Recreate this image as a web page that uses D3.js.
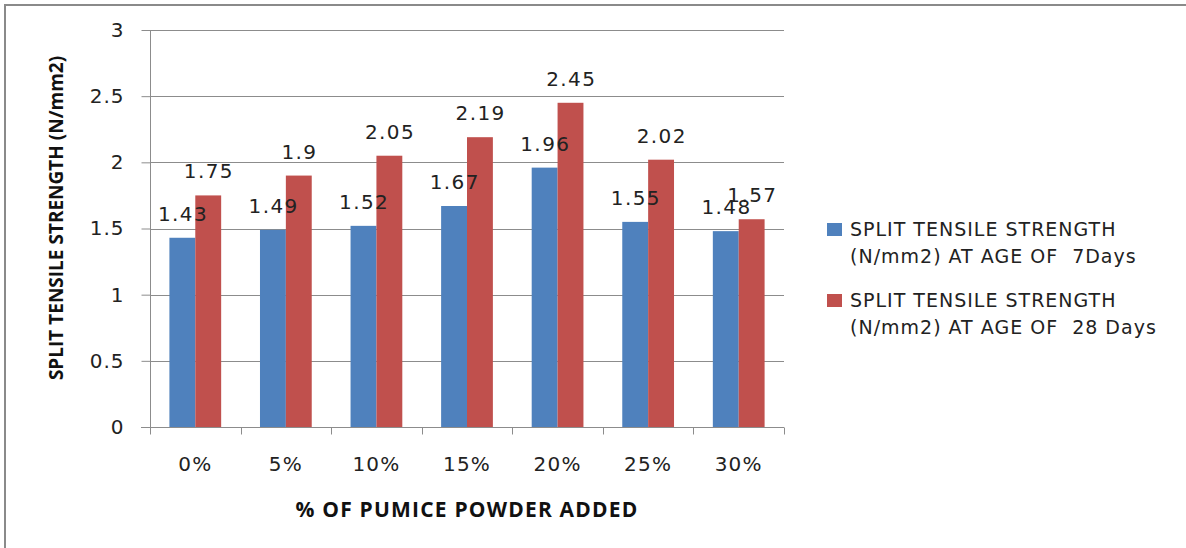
<!DOCTYPE html>
<html>
<head>
<meta charset="utf-8">
<script src="https://cdn.jsdelivr.net/npm/d3@7"></script>
<style>
  html, body { margin: 0; padding: 0; background: #fff; }
  svg text { white-space: pre; }
</style>
</head>
<body>
<svg id="chart" width="1186" height="548"></svg>
<script>
// Split tensile strength of concrete vs. pumice powder replacement
const categories = ["0%", "5%", "10%", "15%", "20%", "25%", "30%"];
const strength7Days = [1.43, 1.49, 1.52, 1.67, 1.96, 1.55, 1.48];
const strength28Days = [1.75, 1.90, 2.05, 2.19, 2.45, 2.02, 1.57];
const yTicks = [0, 0.5, 1, 1.5, 2, 2.5, 3];
const seriesNames = [
  ["SPLIT TENSILE STRENGTH", "(N/mm2) AT AGE OF  7Days"],
  ["SPLIT TENSILE STRENGTH", "(N/mm2) AT AGE OF  28 Days"]
];
const seriesColors = ["#4F81BD", "#C0504D"];
const yTitle = "SPLIT TENSILE STRENGTH (N/mm2)";
const xTitle = "% OF PUMICE POWDER ADDED";

const series = [strength7Days, strength28Days];
const svg = d3.select("#chart");
const plot = { left: 150, right: 784, top: 30, bottom: 427 };
const gridColor = "#8C8C8C";
const labelFont = "'DejaVu Sans', Verdana, sans-serif";
const titleFont = "'Open Sans', 'Liberation Sans', sans-serif";

// Outer chart frame (right and bottom edges fall outside the view)
svg.append("path")
  .attr("d", "M5,560 L5,5 L1200,5")
  .attr("fill", "none")
  .attr("stroke", "#8A8A8A")
  .attr("stroke-width", 2);

const x = d3.scaleBand().domain(categories).range([plot.left, plot.right]).padding(0);
const y = d3.scaleLinear().domain([0, 3]).range([plot.bottom, plot.top]);

// Two bars per category, gap width 150% of a bar
const barW = x.bandwidth() / 3.5;
const xs = d3.scaleBand().domain([0, 1])
  .range([x.bandwidth() * 0.75 / 3.5, x.bandwidth() * 0.75 / 3.5 + 2 * barW])
  .padding(0);

// Horizontal gridlines
svg.append("g")
  .selectAll("line")
  .data(yTicks.filter(d => d > 0))
  .join("line")
  .attr("x1", plot.left).attr("x2", plot.right)
  .attr("y1", d => Math.round(y(d)) + 0.5).attr("y2", d => Math.round(y(d)) + 0.5)
  .attr("stroke", gridColor).attr("stroke-width", 1);

// Y axis
const yAxis = svg.append("g")
  .attr("transform", `translate(${plot.left + 0.5},0)`)
  .call(d3.axisLeft(y).tickValues(yTicks).tickSize(9).tickPadding(17).tickFormat(d => String(d)));
yAxis.select(".domain").attr("stroke", gridColor).attr("d", `M0,${plot.top}V${plot.bottom}`);
yAxis.selectAll(".tick line").attr("stroke", gridColor);
yAxis.selectAll(".tick text")
  .attr("font-family", labelFont).attr("font-size", 20).attr("fill", "#222")
  .attr("letter-spacing", 1);

// X axis with tick marks at category boundaries
const xAxisG = svg.append("g").attr("transform", `translate(0,${plot.bottom + 0.5})`);
xAxisG.append("line")
  .attr("x1", plot.left - 9).attr("x2", plot.right)
  .attr("stroke", gridColor);
xAxisG.selectAll("line.b")
  .data(categories.map(c => x(c)).concat([x(categories[categories.length - 1]) + x.bandwidth()]))
  .join("line")
  .attr("class", "b")
  .attr("x1", d => Math.round(d) + 0.5).attr("x2", d => Math.round(d) + 0.5)
  .attr("y1", 0).attr("y2", 7)
  .attr("stroke", gridColor);
xAxisG.selectAll("text")
  .data(categories)
  .join("text")
  .attr("x", d => x(d) + x.bandwidth() / 2)
  .attr("y", 43)
  .attr("text-anchor", "middle")
  .attr("font-family", labelFont).attr("font-size", 20).attr("fill", "#222")
  .attr("letter-spacing", 1.2)
  .text(d => d);

// Bars
series.forEach((vals, si) => {
  const g = svg.append("g");
  g.selectAll("rect")
    .data(vals)
    .join("rect")
    .attr("x", (d, i) => x(categories[i]) + xs(si))
    .attr("y", d => y(d))
    .attr("width", barW)
    .attr("height", d => y(0) - y(d))
    .attr("fill", seriesColors[si]);
});

// Value labels above bars
series.forEach((vals, si) => {
  svg.append("g")
    .selectAll("text")
    .data(vals)
    .join("text")
    .attr("x", (d, i) => x(categories[i]) + xs(si) + barW / 2 + 0.7)
    .attr("y", d => y(d) - 17)
    .attr("text-anchor", "middle")
    .attr("font-family", labelFont).attr("font-size", 20).attr("fill", "#222")
    .attr("letter-spacing", 1.4)
    .text(d => String(d));
});

// Axis titles
svg.append("text")
  .attr("transform", `translate(63,218) rotate(-90)`)
  .attr("text-anchor", "middle")
  .attr("font-family", titleFont).attr("font-weight", "bold")
  .attr("font-size", 19).attr("fill", "#111")
  .text(yTitle);

svg.append("text")
  .attr("x", 467).attr("y", 517)
  .attr("text-anchor", "middle")
  .attr("font-family", titleFont).attr("font-weight", "bold")
  .attr("font-size", 21).attr("fill", "#111")
  .attr("letter-spacing", 1.2)
  .text(xTitle);

// Legend
const legend = svg.append("g").attr("transform", "translate(827,223)");
seriesNames.forEach((lines, i) => {
  const row = legend.append("g").attr("transform", `translate(0,${i * 71})`);
  row.append("rect")
    .attr("x", 0).attr("y", 0).attr("width", 15).attr("height", 13)
    .attr("fill", seriesColors[i]);
  lines.forEach((t, j) => {
    row.append("text")
      .attr("x", 23).attr("y", 13 + j * 27)
      .attr("font-family", labelFont).attr("font-size", 19).attr("fill", "#222")
      .attr("letter-spacing", 1)
      .text(t);
  });
});
</script>
</body>
</html>
